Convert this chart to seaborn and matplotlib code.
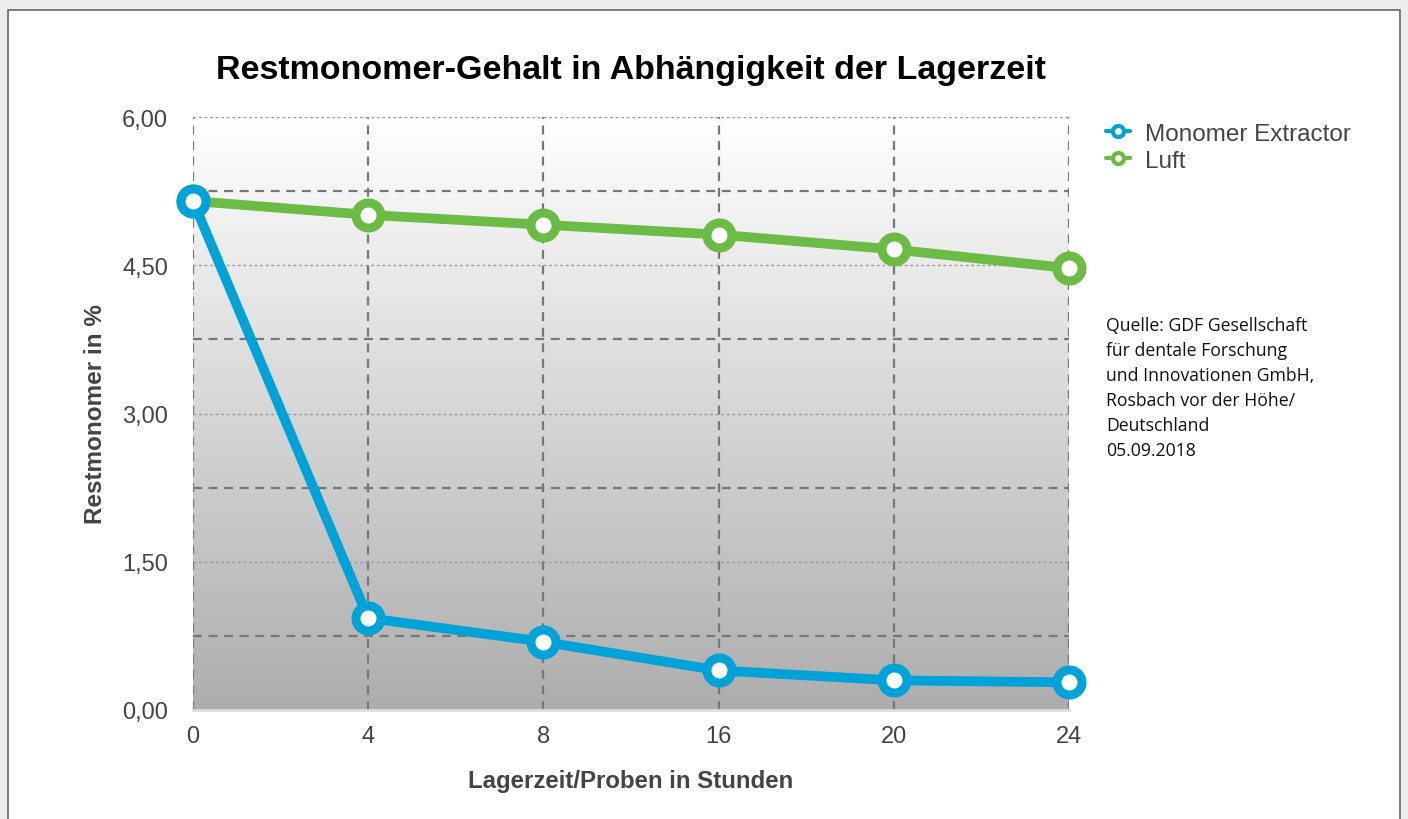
import numpy as np
import pandas as pd
import seaborn as sns
import matplotlib.pyplot as plt
from matplotlib.lines import Line2D
from matplotlib.patches import Rectangle
from matplotlib.ticker import MultipleLocator, FuncFormatter

# data
stunden = ['0', '4', '8', '16', '20', '24']
extractor = [5.15, 0.93, 0.69, 0.40, 0.30, 0.28]
luft = [5.15, 5.01, 4.91, 4.81, 4.66, 4.47]

df = pd.DataFrame({
    'Stunden': stunden * 2,
    'Wert': extractor + luft,
    'Serie': ['Monomer Extractor'] * 6 + ['Luft'] * 6,
})

sns.set_style('white')
plt.rcParams['font.family'] = ['Liberation Sans', 'DejaVu Sans']

blau = '#00a3d8'
gruen = '#6cbb45'
grau = '#444444'

fig = plt.figure(figsize=(14.08, 8.2), dpi=100, facecolor='#ececec')
# white card with thin border
fig.patches.append(Rectangle((8 / 1408, -0.01), 1392 / 1408, (820 - 11) / 820 + 0.01,
                             transform=fig.transFigure, facecolor='white',
                             edgecolor='#666666', linewidth=1.2, zorder=-10))

ax = fig.add_axes([193 / 1408, 109 / 820, 876 / 1408, 593 / 820])
ax.set_facecolor('none')

# gradient background, dark at the bottom
grad = np.linspace(0, 1, 256).reshape(-1, 1)
ax.imshow(grad, cmap=sns.blend_palette(['#adadad', '#ffffff'], as_cmap=True),
          extent=[0, 5, 0, 6], origin='lower', aspect='auto', zorder=0)

sns.lineplot(data=df, x='Stunden', y='Wert', hue='Serie', sort=False,
             palette={'Monomer Extractor': blau, 'Luft': gruen},
             hue_order=['Luft', 'Monomer Extractor'],
             linewidth=7, marker='o', markersize=18, markerfacecolor='white',
             markeredgewidth=6.5, legend=False, ax=ax, zorder=5)
for ln in ax.lines:
    ln.set_clip_on(False)
    ln.set_markeredgecolor(ln.get_color())

ax.set_xlim(0, 5)
ax.set_ylim(0, 6)
ax.yaxis.set_major_locator(MultipleLocator(1.5))
ax.yaxis.set_minor_locator(MultipleLocator(0.75))
ax.yaxis.set_major_formatter(FuncFormatter(lambda v, p: f'{v:.2f}'.replace('.', ',')))

ax.grid(True, which='major', axis='y', color='#999999', linestyle=(0, (2, 2)), linewidth=1)
ax.grid(True, which='minor', axis='y', color='#777777', linestyle=(0, (4, 3)), linewidth=1.6)
ax.grid(True, which='major', axis='x', color='#777777', linestyle=(0, (4, 3)), linewidth=1.6)
ax.set_axisbelow(True)
for g in ax.get_xgridlines() + ax.get_ygridlines():
    g.set_zorder(1)

for s in ['top', 'right', 'left']:
    ax.spines[s].set_visible(False)
ax.spines['bottom'].set_color('#dddddd')
ax.spines['bottom'].set_linewidth(2)

ax.tick_params(axis='both', which='both', length=0, labelsize=17, labelcolor=grau)
ax.tick_params(axis='x', pad=11)
ax.tick_params(axis='y', pad=18)

ax.set_xlabel('Lagerzeit/Proben in Stunden', fontsize=17.3, fontweight='bold', color=grau, labelpad=16)
ax.set_ylabel('Restmonomer in %', fontsize=17.5, fontweight='bold', color=grau, labelpad=11)

fig.text(631 / 1408, 1 - 70 / 820, 'Restmonomer-Gehalt in Abhängigkeit der Lagerzeit',
         ha='center', va='center', fontsize=24.5, fontweight='bold', color='black')

handles = [Line2D([], [], color=blau, linewidth=3, marker='o', markersize=8,
                  markerfacecolor='white', markeredgewidth=3),
           Line2D([], [], color=gruen, linewidth=3, marker='o', markersize=8,
                  markerfacecolor='white', markeredgewidth=3)]
fig.legend(handles, ['Monomer Extractor', 'Luft'], loc='upper left',
           bbox_to_anchor=(1096 / 1408, 1 - 114 / 820), frameon=False,
           fontsize=17.5, labelcolor=grau, handlelength=1.0, handletextpad=0.6,
           labelspacing=0.2, borderaxespad=0)

fig.text(1106 / 1408, 1 - 317 / 820,
         'Quelle: GDF Gesellschaft\nfür dentale Forschung\nund Innovationen GmbH,\n'
         'Rosbach vor der Höhe/\nDeutschland\n05.09.2018',
         ha='left', va='top', fontsize=12.7, color='#111111', linespacing=1.5,
         family=['Open Sans', 'DejaVu Sans'])

fig.savefig('out.png', dpi=100, facecolor=fig.get_facecolor())
